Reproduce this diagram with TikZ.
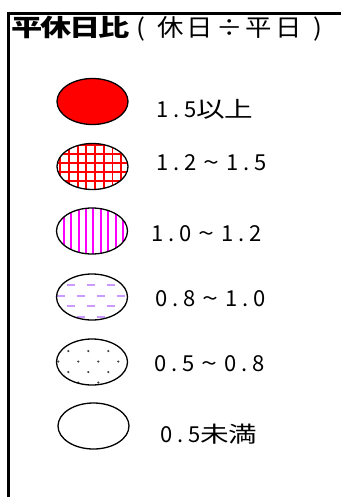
\documentclass[tikz,border=0pt]{standalone}
\usepackage{fontspec}
\usetikzlibrary{shapes.geometric}
\newfontfamily\jp{Noto Sans CJK JP}
\newfontfamily\jpw[FakeStretch=1.3]{Noto Sans CJK JP}
\newfontfamily\jpm[FakeStretch=1.1]{Noto Sans CJK JP}
\definecolor{LegendRed}{HTML}{FF0000}
\definecolor{LegendMagenta}{HTML}{FF00FF}
\definecolor{LegendLilac}{HTML}{CC99FF}
\definecolor{LegendDot}{HTML}{404040}
\newcommand\halfcell[1]{\makebox[14pt]{#1}}
\newcommand\fullcell[1]{\makebox[28pt]{\jpw #1}}
\newcommand\tildecell{\makebox[28pt]{\jpw\textasciitilde}}
\newcommand\titlecell[2][29pt]{\makebox[#1]{#2}}
\tikzset{
  keyshape/.style={ellipse,draw,line width=1.3pt,minimum width=71pt,minimum height=46pt,inner sep=0pt},
  keytext/.style={anchor=base west,inner sep=0pt,font=\jp\fontsize{22}{22}\selectfont},
  gridfill/.style={path picture={\begin{scope}[shift={(path picture bounding box.center)}]
    \foreach \k in {-5,...,5} \draw[LegendRed,line width=1.8pt] (2.5+8.7*\k,-30) -- (2.5+8.7*\k,30) (-40,-3.5+8.9*\k) -- (40,-3.5+8.9*\k);
    \end{scope}}},
  stripefill/.style={path picture={\begin{scope}[shift={(path picture bounding box.center)}]
    \foreach \k in {-5,...,5} \draw[LegendMagenta,line width=2pt] (1.3+7.4*\k,-30) -- (1.3+7.4*\k,30);
    \end{scope}}},
  dashfill/.style={path picture={\begin{scope}[shift={(path picture bounding box.center)}]
    \foreach \y/\s in {-12/-45.3,-1.5/-55.3,9/-45.3,19.5/-55.3} \draw[LegendLilac,line width=2pt,dash pattern=on 8pt off 12pt] (\s,\y) -- (50,\y);
    \end{scope}}},
  dotfill/.style={path picture={\begin{scope}[shift={(path picture bounding box.center)}]
    \foreach \y/\s in {-11/-43.7,-0.5/-53.7,10/-43.7,20.5/-53.7} \foreach \k in {0,...,5} \fill[LegendDot] (\s+20*\k,\y) circle (1.2pt);
    \end{scope}}}
}
\begin{document}
\begin{tikzpicture}[x=1pt,y=-1pt]
  \useasboundingbox (0,0) rectangle (341,497);
  % frame
  \draw[line width=2.7pt] (341,13.5) -- (8.7,13.5) -- (8.7,497);
  % heading
  \node[anchor=base west,inner sep=0pt,font=\jpw\bfseries\fontsize{24}{24}\selectfont] (title) at (12,37)
    {\titlecell{平}\titlecell{休}\titlecell{日}\titlecell{比}};
  \node[anchor=base west,inner sep=0pt,font=\jpm\fontsize{24}{24}\selectfont] (ratio) at (126,37)
    {\titlecell[29.5pt]{(}\titlecell[29.5pt]{休}\titlecell[29.5pt]{日}\titlecell[29.5pt]{÷}\titlecell[29.5pt]{平}\titlecell[29.5pt]{日}\titlecell[29.5pt]{)}};
  % legend keys
  \node[keyshape,fill=LegendRed] (k1) at (92.5,101.5) {};
  \node[keyshape,fill=white,gridfill] (k2) at (92.5,166.5) {};
  \node[keyshape,fill=white,stripefill] (k3) at (92,231) {};
  \node[keyshape,fill=white,dashfill] (k4) at (92,297) {};
  \node[keyshape,fill=white,dotfill] (k5) at (92,362) {};
  \node[keyshape,fill=white] (k6) at (93.5,426) {};
  % legend texts
  \node[keytext] (t1) at (155,118) {\halfcell{1}\halfcell{.}\halfcell{5}\fullcell{以}\fullcell{上}};
  \node[keytext] (t2) at (155,170.8) {\halfcell{1}\halfcell{.}\halfcell{2}\tildecell\halfcell{1}\halfcell{.}\halfcell{5}};
  \node[keytext] (t3) at (150.5,241) {\halfcell{1}\halfcell{.}\halfcell{0}\tildecell\halfcell{1}\halfcell{.}\halfcell{2}};
  \node[keytext] (t4) at (154,306.5) {\halfcell{0}\halfcell{.}\halfcell{8}\tildecell\halfcell{1}\halfcell{.}\halfcell{0}};
  \node[keytext] (t5) at (153,371) {\halfcell{0}\halfcell{.}\halfcell{5}\tildecell\halfcell{0}\halfcell{.}\halfcell{8}};
  \node[keytext] (t6) at (159,442.5) {\halfcell{0}\halfcell{.}\halfcell{5}\fullcell{未}\fullcell{満}};
\end{tikzpicture}
\end{document}
